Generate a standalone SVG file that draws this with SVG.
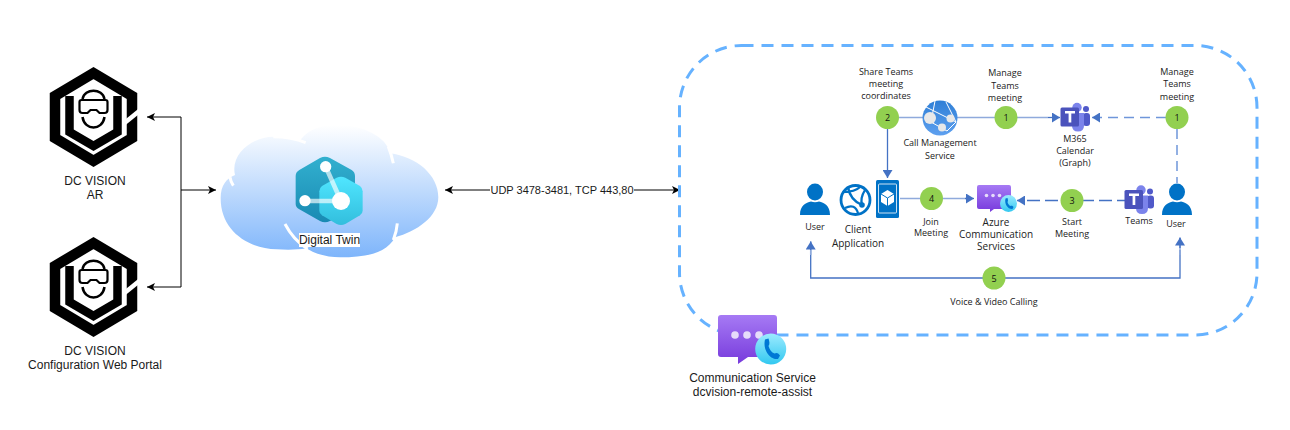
<svg xmlns="http://www.w3.org/2000/svg" width="1290" height="430" viewBox="0 0 1290 430">
<style>
.lbl{font-family:"Liberation Sans",Arial,sans-serif;font-size:12px;fill:#1a1a1a;text-anchor:middle}
.sm{font-family:"Open Sans","Noto Sans",sans-serif;font-size:9px;fill:#222;text-anchor:middle}
.md{font-family:"Open Sans","Noto Sans",sans-serif;font-size:10px;fill:#222;text-anchor:middle}
.num{font-family:"Open Sans","Noto Sans",sans-serif;font-size:9px;fill:#111;text-anchor:middle}
.blk{fill:none;stroke:#000;stroke-width:1}
.lite{fill:none;stroke:#8FAADC;stroke-width:1.5}
.lited{fill:none;stroke:#6F96DA;stroke-width:1.5;stroke-dasharray:10 6}
.dark{fill:none;stroke:#4472C4;stroke-width:1.300}
.darkd{fill:none;stroke:#4472C4;stroke-width:1.300;stroke-dasharray:13 5}
.step{fill:#92D050}
</style>
<defs>
<linearGradient id="cloud" x1="0" y1="0" x2="0" y2="1"><stop offset="0" stop-color="#fff"/><stop offset="1" stop-color="#7EB5FB"/></linearGradient>
<linearGradient id="dt1" x1="0" y1="0" x2="0" y2="1"><stop offset="0" stop-color="#32B0CF"/><stop offset="1" stop-color="#198AB3"/></linearGradient>
<linearGradient id="dt2" x1="0" y1="0" x2="0" y2="1"><stop offset="0" stop-color="#50E6FF"/><stop offset="1" stop-color="#32BEDD"/></linearGradient>
<linearGradient id="acs" x1="0" y1="0" x2="0" y2="1"><stop offset="0" stop-color="#A67AF4"/><stop offset="1" stop-color="#773ADC"/></linearGradient>
<linearGradient id="acsc" x1="0" y1="0" x2="0" y2="1"><stop offset="0" stop-color="#9CEBFF"/><stop offset="1" stop-color="#32C8F0"/></linearGradient>
<linearGradient id="web" x1="0" y1="0" x2="0" y2="1"><stop offset="0" stop-color="#2F7FD6"/><stop offset="1" stop-color="#5EA0EF"/></linearGradient>
<marker id="bk" markerWidth="9" markerHeight="8" refX="8" refY="4" orient="auto-start-reverse" markerUnits="userSpaceOnUse"><path d="M0 0L8 4L0 8L2 4Z" fill="#000"/></marker>
<marker id="bl" markerWidth="9" markerHeight="10" refX="8" refY="5" orient="auto-start-reverse" markerUnits="userSpaceOnUse"><path d="M0 0L8 5L0 10Z" fill="#4472C4"/></marker>
<g id="logo">
<path d="M38.500 -21L0 -44L-38.500 -21V21L0 44L38.500 21Z" fill="none" stroke="#000" stroke-width="10.500" stroke-linejoin="miter"/>
<path d="M-24 -21V15L0 29L24 15V-21" fill="none" stroke="#000" stroke-width="8.500"/>
<path d="M31 6L47 -7" stroke="#fff" stroke-width="4.500" fill="none"/>
<path d="M-11 -18C-9 -29 9 -29 11 -18M-11 0C-9 14 9 14 11 0" fill="none" stroke="#000" stroke-width="2.500"/>
<path d="M-12 -17H12Q14 -17 14 -15V-7Q14 -4 11 -4H6L3 -7H-3L-6 -4H-11Q-14 -4 -14 -7V-15Q-14 -17 -12 -17Z" fill="#fff" stroke="#000" stroke-width="2.200"/>
</g>
<g id="teams">
<circle cx="2" cy="-10" r="4.700" fill="#7B83EB"/>
<circle cx="11" cy="-8.500" r="3" fill="#5059C9"/>
<rect x="8" y="-4.500" width="7" height="13" rx="3" fill="#5059C9"/>
<path d="M-3 -4.500H9V8Q9 14 3 14Q-3 14 -3 8Z" fill="#7B83EB"/>
<rect x="-14.500" y="-10" width="18.500" height="19" rx="1.500" fill="#4B53BC"/>
<path d="M-10 -6.500H0V-4H-3.700V5H-6.400V-4H-10Z" fill="#fff"/>
</g>
<g id="user">
<ellipse cx="0" cy="-8" rx="8" ry="8.500" fill="#0072C6"/>
<path d="M-15 15C-15 5 -9 3 -4 1.500Q0 3 4 1.500C9 3 15 5 15 15Z" fill="#0072C6"/>
</g>
</defs>
<rect width="1290" height="430" fill="#fff"/>
<g id="connectors">
<path class="blk" d="M181 117H147" marker-end="url(#bk)"/>
<path class="blk" d="M181 287H147" marker-end="url(#bk)"/>
<path class="blk" d="M181 117V287"/>
<path class="blk" d="M181 190H216" marker-end="url(#bk)"/>
<path class="blk" d="M445 190H680" marker-start="url(#bk)" marker-end="url(#bk)"/>
<path class="lite" d="M887 117.500H1006"/>
<path class="lite" d="M1006 117.500H1048"/>
<path class="dark" d="M1048 117.500H1060" marker-end="url(#bl)"/>
<path class="dark" d="M887.500 129V178" marker-end="url(#bl)"/>
<path class="lited" d="M1166 117.500H1092" marker-end="url(#bl)"/>
<path class="lited" d="M1177 129V183"/>
<path class="lite" d="M900 198.500H972"/>
<path class="dark" d="M965 198.500H974" marker-end="url(#bl)"/>
<path class="darkd" d="M1130 200.500H1017" marker-end="url(#bl)"/>
<path class="dark" d="M810.700 250V278H1180V250"/>
<path class="lite" d="M810.700 241.500V255"/>
<path class="lite" d="M1180 238V255"/>
<path class="dark" d="M810.700 250V241.500" marker-end="url(#bl)"/>
<path class="dark" d="M1180 248V237.500" marker-end="url(#bl)"/>
</g>
<g id="boundary"><rect x="679.500" y="45.500" width="577.500" height="289.500" rx="62" ry="62" fill="none" stroke="#66B2FF" stroke-width="3" stroke-dasharray="12 8"/></g>
<g id="dc-vision-ar"><use href="#logo" x="93.500" y="117"/><text class="lbl" x="95" y="185">DC VISION</text><text class="lbl" x="95" y="199">AR</text></g>
<g id="dc-vision-portal"><use href="#logo" x="93.500" y="287"/><text class="lbl" x="95" y="355">DC VISION</text><text class="lbl" x="95" y="369">Configuration Web Portal</text></g>
<g id="digital-twin">
<g transform="translate(210 120) scale(.3333)">
<path d="M32 235C32 195 50 175 75 165C60 100 130 50 190 50C220 50 255 55 270 62C300 20 350 15 380 15C460 15 530 50 540 100C620 110 685 165 685 232C685 290 620 335 555 352C530 400 470 412 390 412C350 412 310 400 290 385C260 390 230 390 200 388C110 385 32 330 32 235Z" fill="url(#cloud)"/>
<path d="M60 172Q62 185 70 197M190 50Q245 50 287 68M535 80Q545 105 550 130M225 312Q250 360 293 387M562 310Q560 335 550 360" fill="none" stroke="#fff" stroke-width="9"/>
<path d="M345 110Q352 110 360 114L425 150Q435 156 435 168V252Q435 262 425 268L360 303Q345 310 330 303L268 268Q257 262 257 252V168Q257 156 268 150L330 114Q338 110 345 110Z" fill="url(#dt1)"/>
<path d="M393 170Q400 170 406 173L450 198Q458 204 458 214V272Q458 281 450 286L406 312Q393 318 380 312L336 286Q328 281 328 272V214Q328 204 336 198L380 173Q386 170 393 170Z" fill="url(#dt2)"/>
<path d="M347 140L393 243H285" fill="none" stroke="#fff" stroke-opacity=".65" stroke-width="14"/>
<circle cx="347" cy="140" r="17" fill="#fff"/><circle cx="285" cy="242" r="17" fill="#fff"/><circle cx="393" cy="243" r="27" fill="#fff"/>
</g>
<rect x="299" y="233" width="61" height="14" fill="#fff"/>
<text class="lbl" x="329.500" y="244">Digital Twin</text>
</g>
<rect x="490" y="184" width="144" height="13" fill="#fff"/>
<text class="lbl" style="font-size:11px" x="562" y="194" id="protocols">UDP 3478-3481, TCP 443,80</text>
<g id="call-management">
<circle cx="940" cy="118" r="17.500" fill="url(#web)"/>
<path d="M926 107L956 122M935 101L931 122L947 131M956 122L947 131M946 102L956 122" fill="none" stroke="#fff" stroke-width="1"/>
<circle cx="930" cy="118" r="6" fill="#E8E8E8"/><circle cx="950.500" cy="118.500" r="4" fill="#E8E8E8"/><circle cx="942" cy="127.500" r="4" fill="#E8E8E8"/>
<text class="sm" x="940" y="146">Call Management</text><text class="sm" x="940" y="159">Service</text>
</g>
<g id="teams-calendar"><use href="#teams" x="1075" y="117.500"/><text class="sm" x="1075" y="142">M365</text><text class="sm" x="1075" y="154">Calendar</text><text class="sm" x="1075" y="166">(Graph)</text></g>
<g id="teams-app"><use href="#teams" x="1139" y="200"/><text class="sm" x="1139" y="224">Teams</text></g>
<g id="user-left"><use href="#user" x="815" y="200"/><text class="sm" x="815" y="230">User</text></g>
<g id="user-right"><use href="#user" x="1177" y="200"/><text class="sm" x="1176" y="227">User</text></g>
<g id="client-app">
<circle cx="855.500" cy="200" r="14.500" fill="none" stroke="#0072C6" stroke-width="2.800"/>
<path d="M843 192Q855 192 860 187M848 187Q850 200 862 205M865 190Q860 198 862 205M845 208Q855 203 858 213" fill="none" stroke="#0072C6" stroke-width="2.300"/>
<circle cx="862" cy="205" r="2.800" fill="#0072C6"/>
<text class="md" x="858" y="233">Client</text><text class="md" x="858" y="247">Application</text>
</g>
<g id="client-device">
<rect x="876" y="180" width="23" height="38" rx="1.500" fill="#0072C6"/>
<rect x="878.500" y="184" width="18" height="29" rx="1" fill="none" stroke="#fff" stroke-width=".8"/>
<path d="M887.500 190L894 194V202L887.500 206L881 202V194Z" fill="#fff"/>
<path d="M881 194L887.500 198L894 194M887.500 198V206" fill="none" stroke="#0072C6" stroke-width="1"/>
</g>
<g id="azure-communication">
<path d="M979 185H1009Q1011 185 1011 187V207Q1011 209 1009 209H994L990 212V209H979Q977 209 977 207V187Q977 185 979 185Z" fill="url(#acs)"/>
<circle cx="986.500" cy="195.500" r="1.800" fill="#e6dcfa"/><circle cx="993" cy="195.500" r="1.800" fill="#e6dcfa"/><circle cx="999.500" cy="195.500" r="1.800" fill="#e6dcfa"/>
<circle cx="1008.500" cy="203.500" r="8.500" fill="url(#acsc)"/>
<path d="M1005.500 198.500L1007.500 198C1008 200 1008.300 201 1007.500 202C1008 204 1009 205.500 1010.500 206C1011.500 205.500 1012.500 205.500 1013.500 207L1012.500 209C1008 209.500 1004 204 1005.500 198.500Z" fill="#0078D4"/>
<text class="md" x="996" y="226">Azure</text><text class="md" x="996" y="238">Communication</text><text class="md" x="996" y="250">Services</text>
</g>
<g id="communication-service">
<path d="M721 315H774Q777 315 777 318V354Q777 357 774 357H748L738 364V357H721Q718 357 718 354V318Q718 315 721 315Z" fill="url(#acs)"/>
<circle cx="735" cy="335" r="3.800" fill="#e6dcfa"/><circle cx="747" cy="335" r="3.800" fill="#e6dcfa"/><circle cx="759" cy="335" r="3.800" fill="#e6dcfa"/>
<circle cx="770.700" cy="349" r="15.500" fill="url(#acsc)"/>
<path d="M765 339.500L768.500 338.500C769.500 342 770 344 768.500 346C769.500 349.500 771.500 352.500 774.500 353.500C776.500 352.500 778 352.500 780 355.500L778 359C770 360 762.500 350 765 339.500Z" fill="#0078D4"/>
<text class="lbl" x="752.500" y="382">Communication Service</text><text class="lbl" x="752.500" y="396">dcvision-remote-assist</text>
</g>
<g id="step-2"><circle class="step" cx="887.500" cy="117.500" r="11.500"/><text class="num" x="887.500" y="121">2</text><text class="sm" x="886" y="75">Share Teams</text><text class="sm" x="886" y="87">meeting</text><text class="sm" x="886" y="99">coordinates</text></g>
<g id="step-1a"><circle class="step" cx="1006" cy="117.500" r="11.500"/><text class="num" x="1006" y="121">1</text><text class="sm" x="1005" y="76">Manage</text><text class="sm" x="1005" y="89">Teams</text><text class="sm" x="1005" y="101">meeting</text></g>
<g id="step-1b"><circle class="step" cx="1177" cy="117.500" r="11.500"/><text class="num" x="1177" y="121">1</text><text class="sm" x="1177" y="75">Manage</text><text class="sm" x="1177" y="87">Teams</text><text class="sm" x="1177" y="100">meeting</text></g>
<g id="step-3"><circle class="step" cx="1072" cy="200.500" r="11.500"/><text class="num" x="1072" y="204">3</text><text class="sm" x="1072" y="225">Start</text><text class="sm" x="1072" y="237">Meeting</text></g>
<g id="step-4"><circle class="step" cx="931.500" cy="198.500" r="11.500"/><text class="num" x="931.500" y="202">4</text><text class="sm" x="931" y="225">Join</text><text class="sm" x="931" y="236">Meeting</text></g>
<g id="step-5"><circle class="step" cx="994" cy="278" r="11.500"/><text class="num" x="994" y="281.500">5</text><text class="sm" x="994" y="305">Voice &amp; Video Calling</text></g>
</svg>
